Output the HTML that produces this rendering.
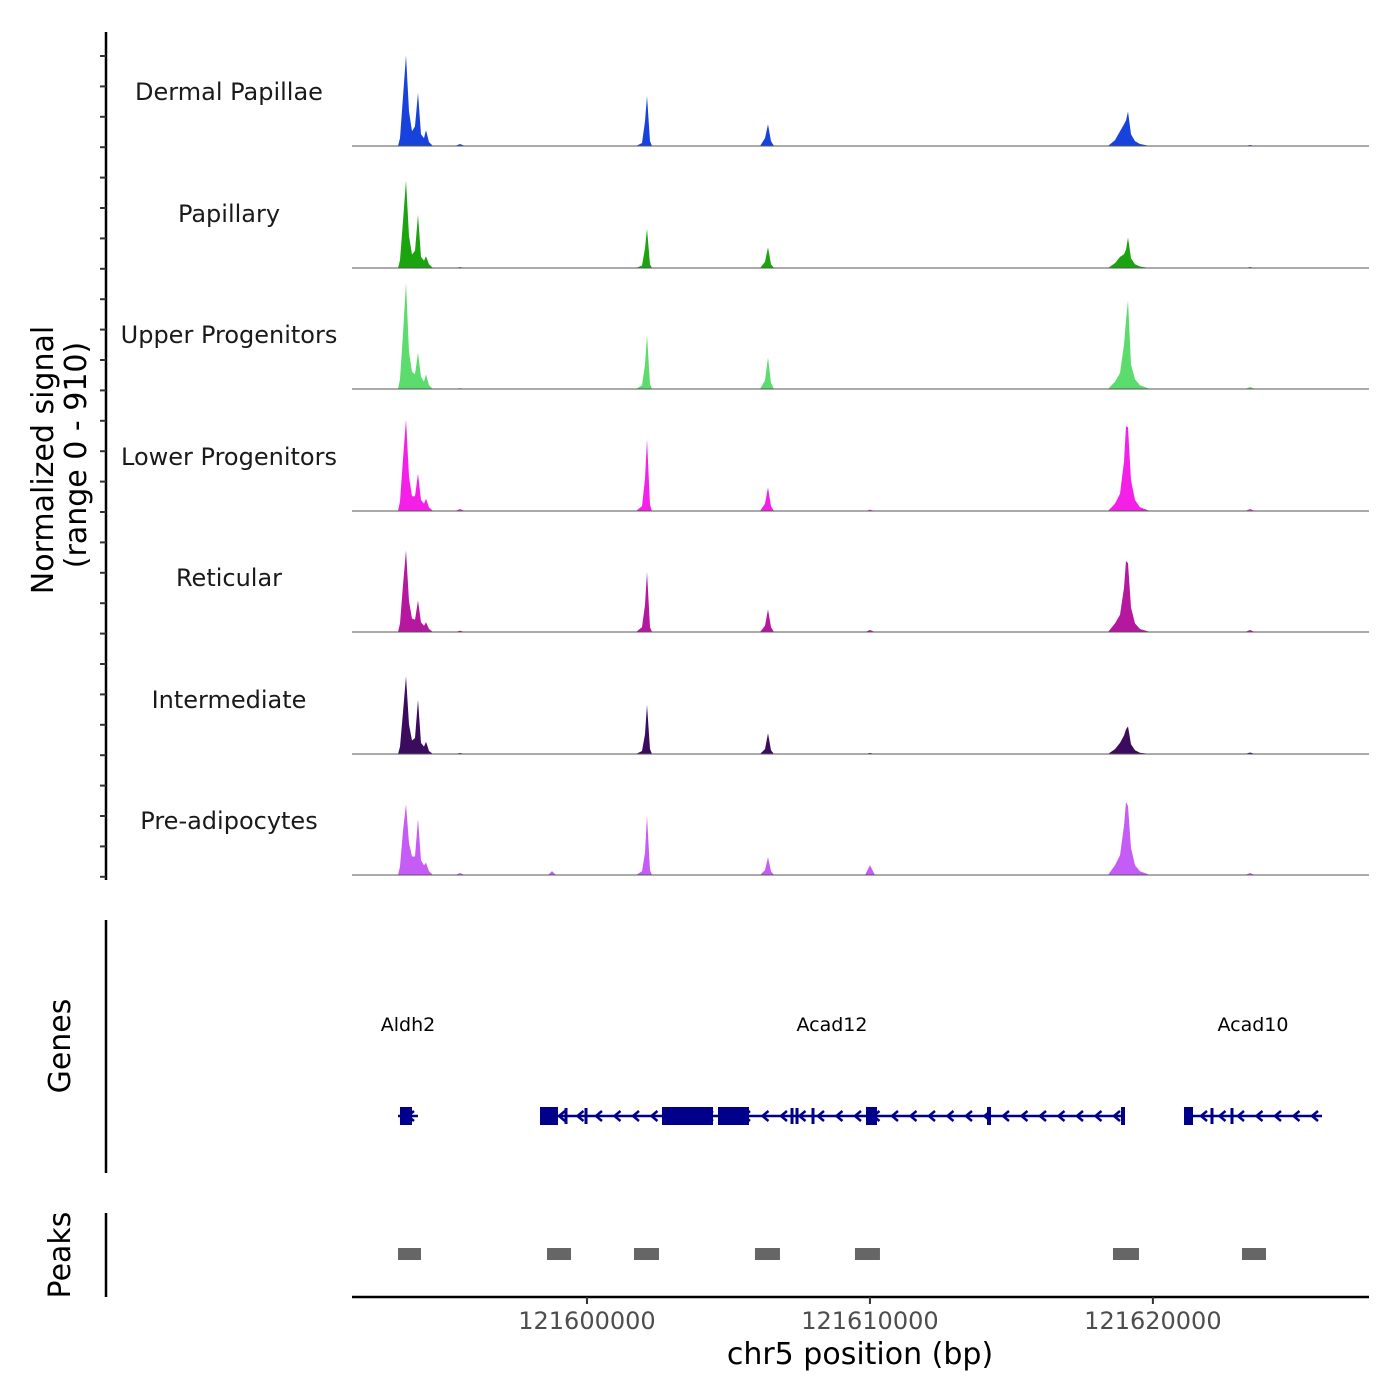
<!DOCTYPE html>
<html><head><meta charset="utf-8"><style>
html,body{margin:0;padding:0;background:#fff}
svg{display:block;font-family:"DejaVu Sans","Liberation Sans",sans-serif}
</style></head><body>
<svg id="chart" width="1400" height="1400" viewBox="0 0 1400 1400" xmlns="http://www.w3.org/2000/svg">
<g id="tracks"></g>
<g id="labels"></g>
<g id="axes"></g>
<g id="genes"></g>
<g id="peaks"></g>
<text transform="translate(53,460) rotate(-90)" text-anchor="middle" font-size="30" fill="#000">Normalized signal</text>
<text transform="translate(86,455) rotate(-90)" text-anchor="middle" font-size="30" fill="#000">(range 0 - 910)</text>
<text transform="translate(70,1046) rotate(-90)" text-anchor="middle" font-size="30" fill="#000">Genes</text>
<text transform="translate(70,1255) rotate(-90)" text-anchor="middle" font-size="30" fill="#000">Peaks</text>
<text x="860" y="1364" text-anchor="middle" font-size="30" fill="#000">chr5 position (bp)</text>
</svg>
<script>
const trackNames = ["Dermal Papillae","Papillary","Upper Progenitors","Lower Progenitors","Reticular","Intermediate","Pre-adipocytes"];
const trackColors = ["#1743dc","#1ba40f","#5cdc6c","#f520e8","#b5189f","#3b0b5e","#c65cf6"];
const signalPos = [121591696,121593322,121593392,121593498,121593604,121593710,121593816,121593922,121594028,121594134,121594240,121594311,121594417,121594559,121595336,121595513,121595689,121598623,121598764,121598905,121601733,121601945,121602051,121602121,121602227,121602298,121606115,121606291,121606397,121606503,121606609,121609825,121610002,121610179,121618413,121618660,121618837,121618978,121619049,121619120,121619226,121619367,121619544,121619897,121623255,121623431,121623608,121627637];
const sigDermal = [0,0,64,400,736,280,120,160,432,96,64,128,32,0,0,16,0,0,0,0,0,24,200,408,40,0,0,64,176,40,0,0,0,0,0,48,120,176,208,280,96,40,16,0,0,8,0,0];
const sigPapillary = [0,0,64,380,712,260,110,140,432,90,60,96,30,0,0,8,0,0,0,0,0,20,160,320,30,0,0,50,168,30,0,0,0,0,0,40,90,112,150,248,80,30,12,0,0,8,0,0];
const sigUpper = [0,0,80,450,864,300,140,120,296,100,60,120,30,0,0,8,0,0,0,0,0,30,200,440,40,0,0,70,256,50,0,0,0,0,0,60,130,360,560,720,200,80,30,0,0,16,0,0];
const sigLower = [0,0,80,420,744,280,120,120,304,90,60,100,30,0,0,16,0,0,0,0,0,40,260,584,50,0,0,60,192,40,0,0,10,0,0,60,140,400,688,680,250,90,30,0,0,16,0,0];
const sigReticular = [0,0,70,380,664,250,110,100,256,80,50,80,24,0,0,10,0,0,0,0,0,40,220,488,40,0,0,50,184,40,0,0,16,0,0,70,140,360,576,560,200,70,24,0,0,16,0,0];
const sigIntermediate = [0,0,60,340,632,240,110,130,440,90,60,100,24,0,0,8,0,0,0,0,0,24,160,400,40,0,0,40,168,30,0,0,8,0,0,40,90,150,200,224,80,30,10,0,0,12,0,0];
const sigPreadip = [0,0,70,360,576,260,150,150,456,120,80,100,30,0,0,16,0,0,32,0,0,30,180,480,40,0,0,40,144,30,0,0,80,0,0,80,160,400,592,560,220,80,30,0,0,16,0,0];
const xTicks = [121600000,121610000,121620000];
const xTickLabels = ["121600000","121610000","121620000"];
const peakStarts = [121593322,121598588,121601662,121605937,121609471,121618589,121623149];
const peakEnds = [121594134,121599436,121602545,121606820,121610354,121619508,121623997];
const geneNames = ["Aldh2","Acad12","Acad10"];
const geneStarts = [121593322,121598340,121621099];
const geneEnds = [121594028,121618978,121625976];
const exonStarts = [121593392,121598340,121602651,121604630,121609861,121614137,121618872,121621099];
const exonEnds = [121593816,121598976,121604454,121605726,121610250,121614278,121619014,121621417];
const intronMarks = [121599259,121599966,121607246,121607423,121607988,121622088,121622795];

const NS='http://www.w3.org/2000/svg';
const X0=352,X1=1369,D0=121591696,D1=121627637;
const xs=v=>X0+(v-D0)/(D1-D0)*(X1-X0);
const baselines=[146,268,389,511,632,754,875];
const ys=(v,b)=>b-v/910*112;
function mk(tag,attrs,parent){const e=document.createElementNS(NS,tag);for(const k in attrs)e.setAttribute(k,attrs[k]);parent.appendChild(e);return e;}
const series=[sigDermal,sigPapillary,sigUpper,sigLower,sigReticular,sigIntermediate,sigPreadip];
const gT=document.getElementById('tracks'),gL=document.getElementById('labels');
series.forEach((s,i)=>{
  const b=baselines[i];
  let d='M'+xs(signalPos[0])+','+b;
  s.forEach((v,j)=>{d+=' L'+xs(signalPos[j]).toFixed(1)+','+ys(v,b).toFixed(1);});
  d+=' L'+xs(signalPos[signalPos.length-1])+','+b+' Z';
  const p=mk('path',{d:d,fill:trackColors[i]},gT);
  
  
  const l=mk('line',{x1:X0,x2:X1,y1:b,y2:b,stroke:'#555','stroke-width':1},gT);
  
  
  const t=mk('text',{x:229,y:b-46,'text-anchor':'middle','font-size':24,fill:'#1a1a1a'},gL);
  t.textContent=trackNames[i];
  
  
});
const gA=document.getElementById('axes');
[[32,880],[920,1173],[1213,1297]].forEach(r=>{
  const a=mk('line',{x1:106,x2:106,y1:r[0],y2:r[1],stroke:'#000','stroke-width':2.5},gA);
  
  
});
for(let k=0;k<28;k++){
  const y=56+k*30.4;
  const t=mk('line',{x1:100,x2:106,y1:y,y2:y,stroke:'#333','stroke-width':2},gA);
  
  
}
const xa=mk('line',{x1:X0,x2:X1,y1:1297,y2:1297,stroke:'#000','stroke-width':2.5},gA);


xTicks.forEach((v,i)=>{
  const t=mk('line',{x1:xs(v),x2:xs(v),y1:1297,y2:1304,stroke:'#333','stroke-width':2},gA);
  
  
  const tl=mk('text',{x:xs(v),y:1329,'text-anchor':'middle','font-size':24,fill:'#4d4d4d'},gA);
  tl.textContent=xTickLabels[i];
  
  
});
const gG=document.getElementById('genes'),GY=1116,C='#00008b';
geneNames.forEach((n,i)=>{
  const x1=xs(geneStarts[i]),x2=xs(geneEnds[i]);
  const l=mk('line',{x1:x1,x2:x2,y1:GY,y2:GY,stroke:C,'stroke-width':2.5},gG);
  
  
  for(let x=x2-4;x>x1+8;x-=18.5){
    const a=mk('path',{d:`M${x},${GY-5} L${x-6},${GY} L${x},${GY+5}`,fill:'none',stroke:C,'stroke-width':2.5},gG);
    
    
  }
  const t=mk('text',{x:(x1+x2)/2,y:1031,'text-anchor':'middle','font-size':19,fill:'#000'},gG);
  t.textContent=n;
  
  
});
exonStarts.forEach((s,i)=>{
  const x1=xs(s),x2=xs(exonEnds[i]);
  const r=mk('rect',{x:x1,y:GY-9,width:Math.max(3,x2-x1),height:18,fill:C},gG);
  
  
});
intronMarks.forEach(v=>{
  const r=mk('rect',{x:xs(v)-1.5,y:GY-8,width:3,height:16,fill:C},gG);
  
  
});
const gP=document.getElementById('peaks');
peakStarts.forEach((s,i)=>{
  const r=mk('rect',{x:xs(s),y:1248,width:xs(peakEnds[i])-xs(s),height:12,fill:'#666'},gP);
  
  
});
</script>
</body></html>
